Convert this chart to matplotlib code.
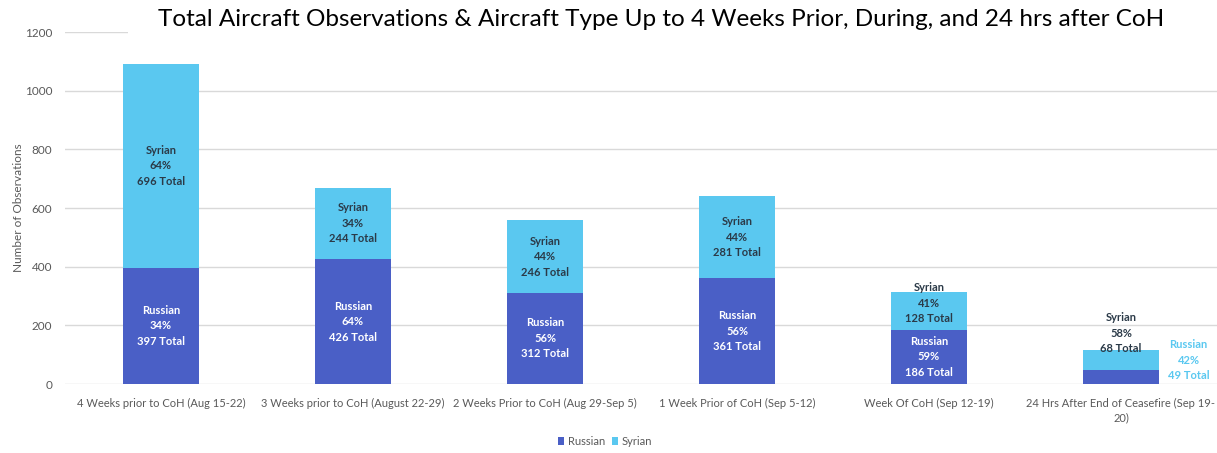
import matplotlib
matplotlib.use("Agg")
import matplotlib.pyplot as plt
from matplotlib.patches import Rectangle
import numpy as np

categories = [
    "4 Weeks prior to CoH (Aug 15-22)",
    "3 Weeks prior to CoH (August 22-29)",
    "2 Weeks Prior to CoH (Aug 29-Sep 5)",
    "1 Week Prior of CoH (Sep 5-12)",
    "Week Of CoH (Sep 12-19)",
    "24 Hrs After End of Ceasefire (Sep 19-\n20)",
]
russian = [397, 426, 312, 361, 186, 49]
syrian = [696, 244, 246, 281, 128, 68]
russian_pct = ["34%", "64%", "56%", "56%", "59%", "42%"]
syrian_pct = ["64%", "34%", "44%", "44%", "41%", "58%"]
yticks = [0, 200, 400, 600, 800, 1000, 1200]

c_rus = "#4a5fc6"
c_syr = "#5ac8f0"
c_dark = "#2b3a48"
c_grid = "#d9d9d9"
c_tick = "#595959"

plt.rcParams["font.family"] = ["Lato", "DejaVu Sans"]

fig = plt.figure(figsize=(12.17, 4.53), dpi=100)
ax = fig.add_axes([0.0534, 0.152, 0.9466, 0.777])

x = np.arange(len(categories))
w = 0.40
ax.bar(x, russian, w, color=c_rus, label="Russian", zorder=3)
ax.bar(x, syrian, w, bottom=russian, color=c_syr, label="Syrian", zorder=3)

ax.set_xlim(-0.5, len(categories) - 0.5)
ax.set_ylim(0, 1200)
ax.set_yticks(yticks)
ax.grid(axis="y", color=c_grid, linewidth=1, zorder=0)
for s in ax.spines.values():
    s.set_visible(False)
ax.tick_params(axis="both", length=0, colors=c_tick)
ax.tick_params(axis="y", pad=9, labelsize=8.5)
ax.tick_params(axis="x", pad=10)
ax.set_xticks(x)
ax.set_xticklabels(categories, fontsize=8.0, color=c_tick, linespacing=1.4)
ax.set_ylabel("Number of Observations", fontsize=8.5, color=c_tick, labelpad=1)

lab_kw = dict(ha="center", va="center", fontsize=8, fontweight="bold", linespacing=1.5, zorder=5)
n = len(categories)
for i in range(n):
    r, s = russian[i], syrian[i]
    rtxt = f"Russian\n{russian_pct[i]}\n{r} Total"
    stxt = f"Syrian\n{syrian_pct[i]}\n{s} Total"
    if i < 4:
        ax.text(x[i], r / 2, rtxt, color="white", **lab_kw)
        ax.text(x[i], r + s / 2, stxt, color=c_dark, **lab_kw)
    elif i == 4:
        ax.text(x[i], r / 2, rtxt, color="white", **lab_kw)
        ax.annotate(stxt, (x[i], r + s / 2), xytext=(0, 5.5), textcoords="offset points", color=c_dark, **lab_kw)
    else:
        ax.annotate(stxt, (x[i], r + s), xytext=(0, 12), textcoords="offset points", color=c_dark, **lab_kw)
        ax.annotate(rtxt, (x[i] + w / 2, r), xytext=(21, 7), textcoords="offset points", color=c_syr, **lab_kw)

# white band hiding the top gridline behind the title, as in the original
fig.patches.append(Rectangle((128 / 1217, 0.915), 1 - 128 / 1217, 0.085, transform=fig.transFigure,
                             facecolor="white", edgecolor="none", zorder=10))
fig.text(0.543, 0.956, "Total Aircraft Observations & Aircraft Type Up to 4 Weeks Prior, During, and 24 hrs after CoH",
         ha="center", va="center", fontsize=17.5, color="black", zorder=11)

fig.legend(loc="center", bbox_to_anchor=(0.497, 0.026), ncol=2, frameon=False, fontsize=8,
           handlelength=0.6, handleheight=0.8, handletextpad=0.3, columnspacing=0.6, labelcolor=c_tick)

fig.savefig("out.png", dpi=100)
